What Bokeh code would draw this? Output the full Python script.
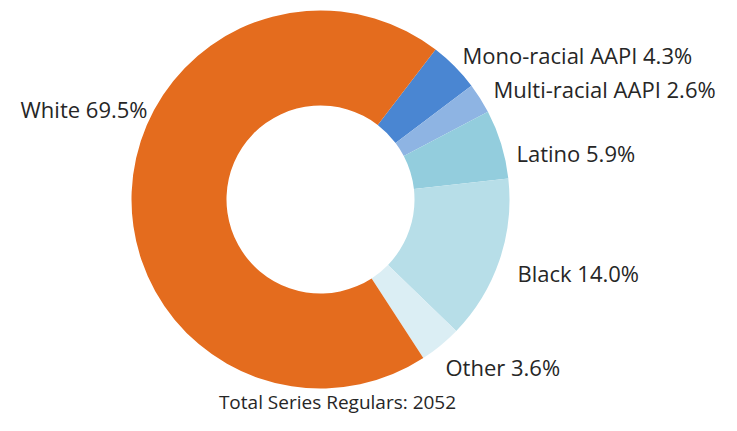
import math
from bokeh.plotting import figure
from bokeh.models import Range1d, ColumnDataSource
from bokeh.core.properties import value
from bokeh.embed import file_html
from bokeh.resources import INLINE

# ---- data ----
categories = ["Mono-racial AAPI", "Multi-racial AAPI", "Latino", "Black", "Other", "White"]
percents = [4.3, 2.6, 5.9, 14.0, 3.6, 69.5]
total_label = "Total Series Regulars: 2052"

# ---- style ----
colors = ["#4A86D2", "#8EB4E3", "#93CDDD", "#B7DEE8", "#DBEEF4", "#E46C1E"]
FONT = "Open Sans"
first_angle = 37.5  # degrees clockwise from 12 o'clock
cx, cy = 320, 431 - 199
r_out, r_in = 189, 94
# label anchors (page pixel coords: left/right x, vertical centre y) and alignment
label_pos = [(462, 54, "left"), (493, 88, "left"), (516, 152, "left"),
             (517, 272, "left"), (445, 366, "left"), (147, 108, "right")]

W, H = 721, 415
p = figure(width=W, height=H, output_backend="svg", toolbar_location=None,
           x_range=Range1d(0, W), y_range=Range1d(431 - H, 431),
           min_border=0)
p.axis.visible = False
p.grid.visible = False
p.outline_line_color = None
p.background_fill_color = "white"

total = sum(percents)
starts, ends = [], []
acc = first_angle
for v in percents:
    a1 = acc
    a2 = acc + v / total * 360.0
    starts.append(math.radians(90 - a2))
    ends.append(math.radians(90 - a1))
    acc = a2

src = ColumnDataSource(dict(x=[cx] * len(percents), y=[cy] * len(percents),
                            start=starts, end=ends, color=colors))
p.annular_wedge(x="x", y="y", inner_radius=r_in, outer_radius=r_out,
                start_angle="start", end_angle="end", fill_color="color",
                line_color=None, source=src)

for cat, v, (lx, ly, al) in zip(categories, percents, label_pos):
    p.text(x=[lx], y=[431 - ly], text=[f"{cat} {v:.1f}%"], text_font=value(FONT),
           text_font_size="22px", text_color="#262626", text_align=al,
           text_baseline="middle")

p.text(x=[337], y=[431 - 401], text=[total_label], text_font=value(FONT),
       text_font_size="19px", text_color="#262626", text_align="center",
       text_baseline="middle")

open("out.html", "w").write(file_html(p, INLINE))
